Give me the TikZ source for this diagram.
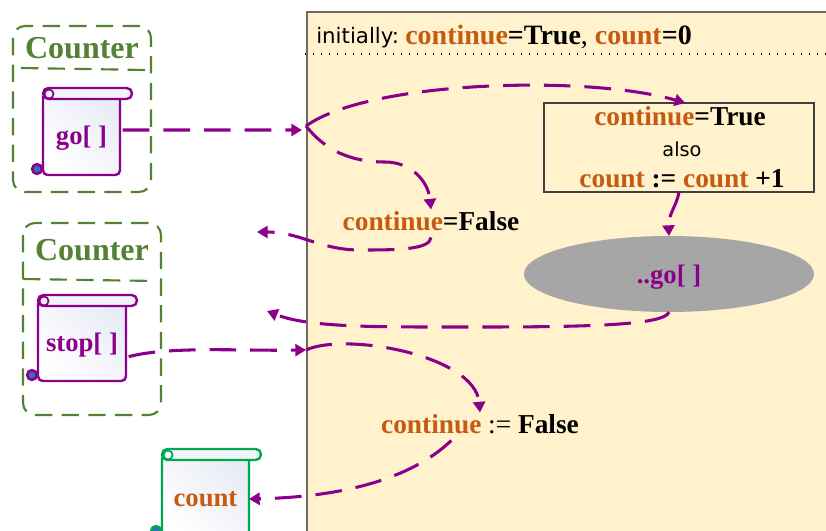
\documentclass[tikz,border=0pt]{standalone}
\usepackage{fontspec}
\setmainfont{Liberation Serif}
\newfontfamily\plainsans{DejaVu Sans}
\usetikzlibrary{arrows.meta,shapes.geometric}
\definecolor{panelyellow}{HTML}{FFF2CC}
\definecolor{panelgray}{HTML}{6B6B60}
\definecolor{countergreen}{HTML}{548235}
\definecolor{flowpurple}{HTML}{8B008B}
\definecolor{varorange}{HTML}{C55A11}
\definecolor{scrollgreen}{HTML}{00A651}
\definecolor{scrollblue}{HTML}{E8ECF5}
\definecolor{curlblue}{HTML}{2E75B6}
\definecolor{ovalgray}{HTML}{A6A6A6}
\newcommand{\cvar}[1]{\textcolor{varorange}{#1}}
\newcommand{\scrollshape}[6]{% colour, left, top, right, bottom, roll end
    \fill [left color=scrollblue,right color=white,shading angle=-45] (#2,#3+6) rectangle (#4,#5);%
    \draw [#1,line width=1.8pt,rounded corners=3.5pt] (#2,#3+8) -- (#2,#5) -- (#4,#5) -- (#4,#3+11);%
    \draw [#1,line width=1.8pt,rounded corners=4pt,fill=scrollblue!60] (#2,#3+11) rectangle (#6,#3);%
    \draw [#1,line width=1.3pt,fill=scrollblue!60] (#2+6,#3+6) circle (3.4pt);%
    \draw [#1,line width=2pt,fill=curlblue] (#2-6,#5-6) circle (3.6pt);%
}
\tikzset{
    panelrule/.style={panelgray,line width=1pt},
    counterframe/.style={countergreen,line width=1.6pt,dash pattern=on 13pt off 7pt,rounded corners=9pt},
    counterrule/.style={countergreen,line width=1.6pt,dash pattern=on 13pt off 7pt},
    countertitle/.style={text=countergreen,font=\fontsize{24}{28}\selectfont\bfseries,inner sep=0pt},
    scrolltext/.style={font=\fontsize{20}{24}\selectfont\bfseries,inner sep=0pt,outer sep=2pt},
    stmt/.style={font=\fontsize{20.5}{24}\selectfont\bfseries,inner sep=0pt,outer sep=2pt,text height=14pt,text depth=3pt},
    flow/.style={flowpurple,line width=2.3pt,dash pattern=on 20pt off 10.5pt,-{Triangle[length=8pt,width=9pt]}},
}
\begin{document}
\begin{tikzpicture}[x=0.75pt,y=-0.75pt]
    \clip (0,0) rectangle (826,531);

    % Drawing the yellow panel
    \draw [panelrule,fill=panelyellow] (307,12) rectangle (840,545);%
    \draw [black,line width=0.9pt,dash pattern=on 0.9pt off 5.1pt] (305,54) -- (826,54);%
    \node (initline) [anchor=west,inner sep=0pt,font=\fontsize{21}{25}\selectfont\bfseries] at (405,36.5) {\cvar{continue}=True\textmd{,} \cvar{count}=0};%
    \node (initword) [anchor=west,inner sep=0pt,font=\plainsans\fontsize{16}{20}\selectfont] at (316,37.5) {initially:};%

    % Drawing Counter frame for go
    \draw [counterframe] (13,26) rectangle (151,192);%
    \draw [counterrule] (21,68) -- (146,70);%
    \node (gotitle) [countertitle] at (82,48) {Counter};%

    % Drawing Counter frame for stop
    \draw [counterframe] (23,223) rectangle (161,415);%
    \draw [counterrule] (23,279) -- (156,281);%
    \node (stoptitle) [countertitle] at (92,250) {Counter};%

    % Drawing scroll go
    \scrollshape{flowpurple}{43}{88}{120}{175}{132}%
    \node (goscroll) [scrolltext,text=flowpurple,minimum width=77*0.75pt,minimum height=76*0.75pt] at (81.5,138) {go[\hspace{5pt}]};%

    % Drawing scroll stop
    \scrollshape{flowpurple}{38}{295}{126}{381}{137}%
    \node (stopscroll) [scrolltext,text=flowpurple,minimum width=88*0.75pt,minimum height=75*0.75pt] at (82,345) {stop[\hspace{5pt}]};%

    % Drawing scroll count
    \scrollshape{scrollgreen}{162}{449}{249}{537}{261}%
    \node (countscroll) [scrolltext,text=varorange,outer sep=0pt,minimum width=87*0.75pt,minimum height=78*0.75pt] at (205.5,499) {count};%

    % Marking statements inside the panel
    \node (truebox) [draw=black!75,line width=0.8pt,minimum width=270*0.75pt,minimum height=89*0.75pt,inner sep=0pt,outer sep=0pt] at (679,147.5) {};%
    \node (truetext) [stmt] at (680,118.5) {\cvar{continue}=True};%
    \node (alsotext) [inner sep=0pt,font=\plainsans\fontsize{14.5}{18}\selectfont] at (682,149.5) {also};%
    \node (inctext) [stmt] at (682,180.5) {\cvar{count} := \cvar{count} +1};%
    \node (falsetext) [stmt] at (431,223.5) {\cvar{continue}=False};%
    \node (assigntext) [stmt] at (480,426.5) {\cvar{continue} \textmd{:=} False};%
    \node (gooval) [ellipse,fill=ovalgray,minimum width=290*0.75pt,minimum height=76*0.75pt,inner sep=0pt,outer sep=0pt] at (669,274) {};%
    \node (golabel) [text=flowpurple,font=\fontsize{20}{24}\selectfont\bfseries,inner sep=0pt] at (669,277) {..go[\hspace{5pt}]};%

    % Free ends of the connectors
    \coordinate (goend) at (302,130);%
    \coordinate (gojoin) at (306,126);%
    \coordinate (stopjoin) at (306,350);%
    \coordinate (falseback) at (257,232);%
    \coordinate (ovalback) at (267,311);%

    % Drawing connectors
    \draw [flow] (goscroll.11) -- (goend);%
    \draw [flow] (gojoin) .. controls (370,80) and (590,75) .. (truebox.82);%
    \draw [flow] (gojoin) .. controls (325,150) and (350,162) .. (385,162) .. controls (410,162) and (428,180) .. (falsetext.north);%
    \draw [flow] (falsetext.south) .. controls (430,250) and (395,250) .. (360,250) .. controls (320,250) and (300,232) .. (falseback);%
    \draw [flow] (truebox.south) .. controls (677,205) and (668,215) .. (gooval.north);%
    \draw [flow] (gooval.south) .. controls (665,325) and (590,327) .. (480,327) .. controls (380,327) and (310,328) .. (ovalback);%
    \draw [flow] (stopscroll.-14) .. controls (170,346) and (240,351) .. (stopjoin);%
    \draw [flow] (stopjoin) .. controls (345,332) and (475,355) .. (assigntext.north);%
    \draw [flow] (assigntext.206) .. controls (410,480) and (340,497) .. (countscroll.east);%
\end{tikzpicture}
\end{document}
